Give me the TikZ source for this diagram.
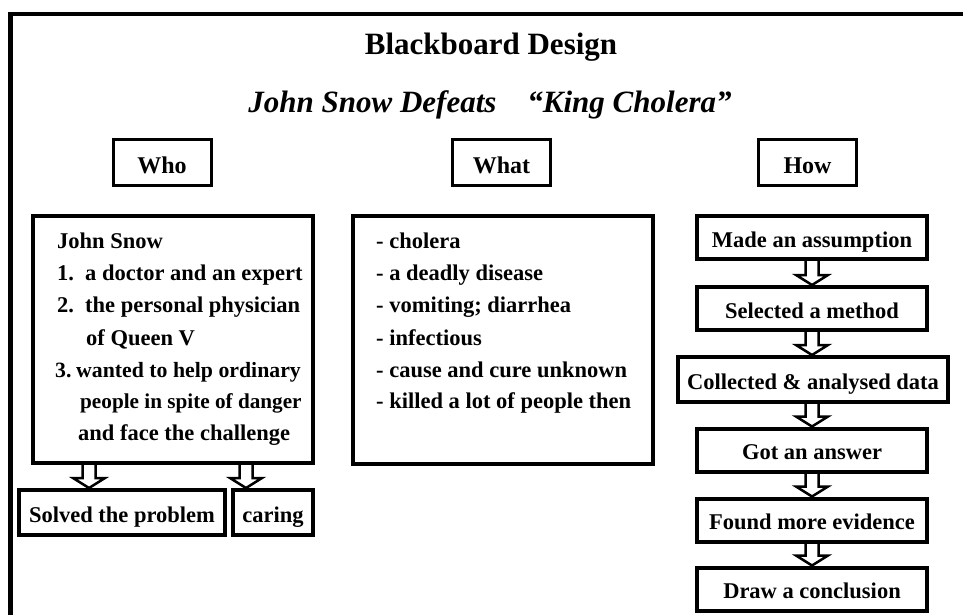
\documentclass[tikz,border=0pt]{standalone}
\usepackage{fontspec}
\setmainfont{Liberation Serif}
\usetikzlibrary{calc}
\newcommand\bodyfnt{\bfseries\fontsize{22.5}{32}\selectfont}
\newcommand\harrow[2]{%
  \draw[harrowline] let \p1=#1, \p2=#2 in
    (\x1-6.5pt,\y1) -- (\x1-6.5pt,\y2+10pt) -- (\x1-16pt,\y2+10pt) -- (\x1,\y2)
    -- (\x1+16pt,\y2+10pt) -- (\x1+6.5pt,\y2+10pt) -- (\x1+6.5pt,\y1);}
\begin{document}
\begin{tikzpicture}[x=1pt,y=-1pt,
  hdr/.style={draw, line width=3pt, minimum width=98pt, minimum height=46pt, inner sep=0pt,
    text height=22pt, text depth=0pt, font=\bfseries\fontsize{24}{28}\selectfont},
  bigbox/.style={draw, line width=3.5pt, inner sep=0pt},
  boxtxt/.style={text height=20pt, text depth=1pt, font=\bodyfnt},
  stepbox/.style={draw, line width=4pt, minimum width=230pt, minimum height=43pt, inner sep=0pt,
    boxtxt},
  bodytxt/.style={font=\bodyfnt, inner sep=0pt, anchor=base west},
  harrowline/.style={line width=2.5pt, line join=miter}]
\useasboundingbox (0,0) rectangle (963,615);
% frame
\draw[line width=4.5pt, line join=miter] (963,14) -- (10.5,14) -- (10.5,615);
% titles
\node[font=\bfseries\fontsize{31}{36}\selectfont, anchor=base, inner sep=0pt] (title) at (491,55) {Blackboard Design};
\node[font=\bfseries\itshape\fontsize{31}{36}\selectfont, anchor=base, inner sep=0pt] (sub) at (490,113)
  {John Snow Defeats\hspace{1em}“King Cholera”};
% headers
\node[hdr] (who) at (162,162) {Who};
\node[hdr] (what) at (501.5,162) {What};
\node[hdr] (how) at (807.5,162.5) {How};
% who column
\node[bigbox, minimum width=280pt, minimum height=247pt] (js) at (173,339.5) {};
\node[bodytxt] (j1) at (57,248) {John Snow};
\node[bodytxt] (j2) at (57,280) {\makebox[28pt][l]{1.}a doctor and an expert};
\node[bodytxt] (j3) at (57,312) {\makebox[28pt][l]{2.}the personal physician};
\node[bodytxt] (j4) at (86,345) {of Queen V};
\node[bodytxt, font=\bfseries\fontsize{21.8}{32}\selectfont] (j5) at (55,377) {\makebox[21pt][l]{3.}wanted to help ordinary};
\node[bodytxt, font=\bfseries\fontsize{21.2}{32}\selectfont] (j6) at (80,408) {people in spite of danger};
\node[bodytxt] (j7) at (78,440) {and face the challenge};
\node[bigbox, boxtxt, line width=4pt, minimum width=206pt, minimum height=45pt] (sv) at (122,512.5) {Solved the problem};
\node[bigbox, boxtxt, line width=4pt, minimum width=80pt, minimum height=45pt] (car) at (273,512.5) {caring};
\coordinate (a1) at (89,0);
\coordinate (a2) at (246,0);
\harrow{(js.south -| a1)}{(sv.north -| a1)}
\harrow{(js.south -| a2)}{(car.north -| a2)}
% what column
\node[bigbox, minimum width=300pt, minimum height=248pt] (wb) at (503,340) {};
\node[bodytxt] (w1) at (376,248) {- cholera};
\node[bodytxt] (w2) at (376,280) {- a deadly disease};
\node[bodytxt] (w3) at (376,312) {- vomiting; diarrhea};
\node[bodytxt] (w4) at (376,345) {- infectious};
\node[bodytxt] (w5) at (376,377) {- cause and cure unknown};
\node[bodytxt] (w6) at (376,408) {- killed a lot of people then};
% how column
\node[stepbox] (m1) at (812,237.5) {Made an assumption};
\node[stepbox] (m2) at (812,308.5) {Selected a method};
\node[stepbox, minimum width=270pt, minimum height=45pt] (m3) at (813,379.5) {Collected \& analysed data};
\node[stepbox] (m4) at (812,450) {Got an answer};
\node[stepbox] (m5) at (812,520) {Found more evidence};
\node[stepbox] (m6) at (812,589) {Draw a conclusion};
\harrow{(m1.south)}{(m2.north)}
\harrow{(m2.south)}{(m3.north -| m2)}
\harrow{(m3.south -| m4)}{(m4.north)}
\harrow{(m4.south)}{(m5.north)}
\harrow{(m5.south)}{(m6.north)}
\end{tikzpicture}
\end{document}
